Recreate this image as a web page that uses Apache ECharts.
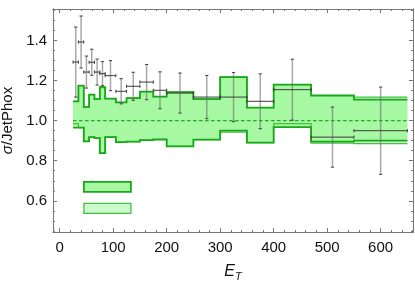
<!DOCTYPE html>
<html><head><meta charset="utf-8">
<script src="https://cdn.jsdelivr.net/npm/echarts@6/dist/echarts.min.js"></script>
<style>html,body{margin:0;padding:0;background:#fff}#c{width:415px;height:284px}</style>
</head><body><div id="c"></div>
<script>
// ---- data ----
const binEdges  = [25,35,45,55,65,75,85,105,125,150,175,200,250,300,350,400,470,550,650];
const bandAHigh = [1.097,1.175,1.068,1.130,1.108,1.167,1.110,1.092,1.113,1.145,1.120,1.143,1.108,1.218,1.065,1.180,1.127,1.105];
const bandALow  = [0.965,0.965,0.897,0.918,0.913,0.838,0.918,0.893,0.895,0.903,0.906,0.872,0.905,0.950,0.890,0.968,0.895,0.900];
const bandBHigh = [1.097,1.175,1.068,1.130,1.108,1.167,1.110,1.092,1.113,1.145,1.120,1.143,1.108,1.218,1.065,1.180,1.124,1.118];
const bandBLow  = [0.985,0.965,0.897,0.918,0.913,0.838,0.918,0.893,0.895,0.903,0.906,0.872,0.905,0.943,0.890,0.985,0.888,0.885];
const pointY    = [1.293,1.393,1.243,1.292,1.243,1.235,1.225,1.147,1.172,1.193,1.152,1.138,1.118,1.118,1.097,1.155,0.918,0.950];
const pointErr  = [0.175,0.130,0.080,0.065,0.065,0.060,0.075,0.063,0.070,0.088,0.092,0.100,0.108,0.123,0.137,0.152,0.150,0.218];
const refLine   = [[25,1.0],[650,1.0]];
const xTicks      = [0,100,200,300,400,500,600];
const xMinorTicks = [0,20,40,60,80,120,140,160,180,220,240,260,280,320,340,360,380,420,440,460,480,520,540,560,580,620,640,660];
const yTicks      = [0.6,0.8,1.0,1.2,1.4];
const yMinorTicks = [0.45,0.5,0.55,0.65,0.7,0.75,0.85,0.9,0.95,1.05,1.1,1.15,1.25,1.3,1.35,1.45,1.5,1.55];

const X_MIN = -12.5, X_MAX = 660.5, Y_MIN = 0.444, Y_MAX = 1.558;
const FRAME = '#777';
const FONT = 'Liberation Sans, Arial, sans-serif';

function stepPoints(api, vals) {
  const pts = [];
  for (let i = 0; i < vals.length; i++) {
    pts.push(api.coord([binEdges[i], vals[i]]));
    pts.push(api.coord([binEdges[i + 1], vals[i]]));
  }
  return pts;
}
function bandFill(hi, lo, fill) {
  return function (params, api) {
    const up = stepPoints(api, hi);
    const dn = stepPoints(api, lo).reverse();
    return { type: 'polygon', shape: { points: up.concat(dn) }, style: { fill: fill, stroke: null } };
  };
}
function bandLine(hi, lo, color, w) {
  return function (params, api) {
    return { type: 'group', children: [
      { type: 'polyline', shape: { points: stepPoints(api, hi) }, style: { stroke: color, lineWidth: w, fill: null } },
      { type: 'polyline', shape: { points: stepPoints(api, lo) }, style: { stroke: color, lineWidth: w, fill: null } }
    ]};
  };
}
function renderPoint(params, api) {
  const x0 = api.value(0), x1 = api.value(1), y = api.value(2), e = api.value(3);
  const xc = (x0 + x1) / 2;
  const pL = api.coord([x0, y]), pR = api.coord([x1, y]);
  const pT = api.coord([xc, y + e]), pB = api.coord([xc, y - e]);
  const c = 1.6;
  const dark = '#3a3a3a';
  const ln = (a, b, cc, d, s, w) => ({ type: 'line', shape: { x1: a, y1: b, x2: cc, y2: d }, style: { stroke: s, lineWidth: w } });
  return { type: 'group', children: [
    ln(pT[0], pT[1], pB[0], pB[1], 'rgba(110,110,110,0.6)', 1.5),
    ln(pL[0], pL[1], pR[0], pR[1], dark, 1),
    ln(pT[0] - c, pT[1], pT[0] + c, pT[1], dark, 1),
    ln(pB[0] - c, pB[1], pB[0] + c, pB[1], dark, 1),
    ln(pL[0], pL[1] - c, pL[0], pL[1] + c, dark, 1),
    ln(pR[0], pR[1] - c, pR[0], pR[1] + c, dark, 1)
  ]};
}

const fillA = '#a6f8a2', fillB = '#cdfacd', lineA = '#18a818', lineB = '#44c044';

function xAx(pos, ticks, len, showLabel, extra) {
  return Object.assign({
    type: 'value', position: pos, min: X_MIN, max: X_MAX,
    axisLine: { show: true, onZero: false, lineStyle: { color: FRAME, width: 1 } },
    axisTick: { show: true, inside: true, length: len, customValues: ticks, lineStyle: { color: FRAME } },
    axisLabel: { show: showLabel, customValues: ticks, fontSize: 15, color: '#111', fontFamily: FONT, margin: 8 },
    splitLine: { show: false }
  }, extra || {});
}
function yAx(pos, ticks, len, showLabel, extra) {
  return Object.assign({
    type: 'value', position: pos, min: Y_MIN, max: Y_MAX,
    axisLine: { show: true, onZero: false, lineStyle: { color: FRAME, width: 1 } },
    axisTick: { show: true, inside: true, length: len, customValues: ticks, lineStyle: { color: FRAME } },
    axisLabel: { show: showLabel, customValues: ticks, fontSize: 15, color: '#111', fontFamily: FONT, margin: 6,
                 formatter: v => Number(v).toFixed(1) },
    splitLine: { show: false }
  }, extra || {});
}

const chart = echarts.init(document.getElementById('c'), null, { renderer: 'canvas' });
chart.setOption({
  animation: false,
  grid: { left: 53, right: 2, top: 9, bottom: 52, containLabel: false, outerBoundsMode: 'none' },
  xAxis: [
    xAx('bottom', xTicks, 4, true, {
      name: '{i|E}{s|T}', nameLocation: 'middle', nameGap: 30,
      nameTextStyle: { fontFamily: FONT, color: '#111', rich: {
        i: { fontStyle: 'italic', fontSize: 16, fontFamily: FONT, color: '#111' },
        s: { fontStyle: 'italic', fontSize: 11, fontFamily: FONT, color: '#111', padding: [9, 0, 0, 0] } } }
    }),
    xAx('bottom', xMinorTicks, 2, false),
    xAx('top', xTicks, 4, false),
    xAx('top', xMinorTicks, 2, false)
  ],
  yAxis: [
    yAx('left', yTicks, 4, true, {
      name: '{i|σ}/JetPhox', nameLocation: 'middle', nameGap: 34,
      nameTextStyle: { fontFamily: FONT, color: '#111', fontSize: 15, rich: {
        i: { fontStyle: 'italic', fontSize: 15, fontFamily: FONT, color: '#111' } } }
    }),
    yAx('left', yMinorTicks, 2, false),
    yAx('right', yTicks, 4, false),
    yAx('right', yMinorTicks, 2, false)
  ],
  legend: {
    show: true, orient: 'vertical', left: 83, top: 181, padding: 0,
    itemWidth: 47, itemHeight: 10, itemGap: 10, selectedMode: false,
    formatter: () => '', textStyle: { fontSize: 8, lineHeight: 10 },
    data: [
      { name: 'A', icon: 'rect', itemStyle: { color: fillA, borderColor: lineA, borderWidth: 1.8 } },
      { name: 'B', icon: 'rect', itemStyle: { color: fillB, borderColor: lineB, borderWidth: 1.3 } }
    ]
  },
  series: [
    { name: 'B', type: 'custom', data: [[0]], renderItem: bandFill(bandBHigh, bandBLow, fillB), z: 1, silent: true,
      itemStyle: { color: fillB } },
    { name: 'A', type: 'custom', data: [[0]], renderItem: bandFill(bandAHigh, bandALow, fillA), z: 2, silent: true,
      itemStyle: { color: fillA } },
    { type: 'line', data: refLine, symbol: 'none', z: 3, silent: true,
      lineStyle: { color: '#22aa22', width: 1.2, type: [3.5, 2.5] } },
    { name: 'Bline', type: 'custom', data: [[0]], renderItem: bandLine(bandBHigh, bandBLow, lineB, 1.2), z: 4, silent: true },
    { name: 'Aline', type: 'custom', data: [[0]], renderItem: bandLine(bandAHigh, bandALow, lineA, 1.8), z: 5, silent: true },
    { name: 'data', type: 'custom', z: 6, silent: true,
      data: pointY.map((y, i) => [binEdges[i], binEdges[i + 1], y, pointErr[i]]),
      encode: { x: [0, 1], y: 2 }, renderItem: renderPoint }
  ]
});
</script></body></html>
